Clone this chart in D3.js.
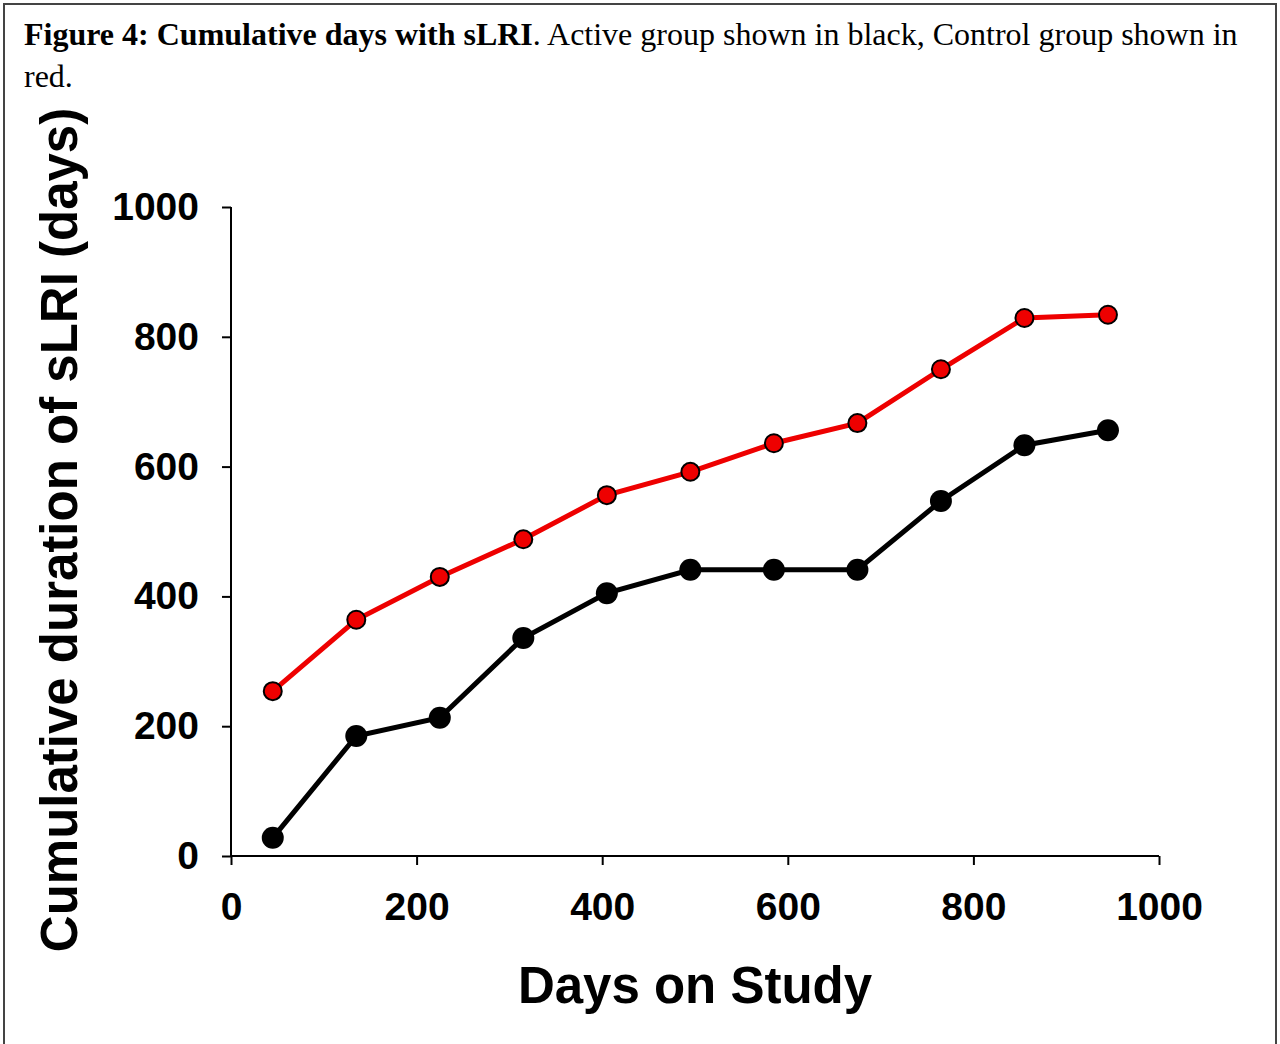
<!DOCTYPE html>
<html>
<head>
  <title>Cumulative days with sLRI</title>
  <style>
    body { margin: 0; background: #fff; }
    svg { display: block; }
    .caption { font-family: "Liberation Serif", "Times New Roman", serif; font-size: 32px; fill: #000; }
    .tick text { font-family: "Liberation Sans", Arial, sans-serif; font-weight: bold; font-size: 39px; fill: #000; }
    .axis-title { font-family: "Liberation Sans", Arial, sans-serif; font-weight: bold; font-size: 51px; fill: #000; }
  </style>
</head>
<body>
  <script src="https://d3js.org/d3.v7.min.js"></script>
  <script>
    // data
    const days = [45, 135, 225, 315, 405, 495, 585, 675, 765, 855, 945];
    const control = [254, 364, 430, 488, 556, 592, 636, 667, 750, 829, 834];
    const active = [28, 185, 213, 336, 405, 441, 441, 441, 547, 633, 656];
    const xTicks = [0, 200, 400, 600, 800, 1000];
    const yTicks = [0, 200, 400, 600, 800, 1000];

    const width = 1280, height = 1044;
    const svg = d3.select("body").append("svg")
      .attr("width", width)
      .attr("height", height);

    // frame
    svg.append("path")
      .attr("d", "M4,1048 V4 H1276 V1048")
      .attr("fill", "none")
      .attr("stroke", "#444")
      .attr("stroke-width", 2);

    // caption
    const cap = svg.append("text").attr("class", "caption").attr("x", 24).attr("y", 45);
    cap.append("tspan").attr("font-weight", "bold").text("Figure 4: Cumulative days with sLRI");
    cap.append("tspan").text(". Active group shown in black, Control group shown in");
    svg.append("text").attr("class", "caption").attr("x", 24).attr("y", 87).text("red.");

    const x = d3.scaleLinear().domain([0, 1000]).range([231, 1159]);
    const y = d3.scaleLinear().domain([0, 1000]).range([856, 207]);
    const fmt = d3.format("d");

    const xAxis = svg.append("g")
      .attr("transform", "translate(0,856)")
      .call(d3.axisBottom(x).tickValues(xTicks).tickFormat(fmt).tickSize(9).tickPadding(27).tickSizeOuter(0));
    xAxis.selectAll("line, path").attr("stroke", "#000").attr("stroke-width", 2);
    xAxis.select(".domain").attr("d", `M${x(0)},0H${x(1000)}`);
    xAxis.selectAll(".tick text").attr("font-size", null).attr("font-family", null);

    const yAxis = svg.append("g")
      .attr("transform", "translate(231,0)")
      .call(d3.axisLeft(y).tickValues(yTicks).tickFormat(fmt).tickSize(9).tickPadding(23).tickSizeOuter(0));
    yAxis.selectAll("line, path").attr("stroke", "#000").attr("stroke-width", 2);
    yAxis.select(".domain").attr("d", `M0,${y(0)}V${y(1000)}`);
    yAxis.selectAll(".tick text").attr("font-size", null).attr("font-family", null);

    // axis titles
    svg.append("text").attr("class", "axis-title")
      .attr("x", 695).attr("y", 1003)
      .attr("text-anchor", "middle")
      .text("Days on Study");
    svg.append("text").attr("class", "axis-title")
      .attr("transform", "translate(77,530) rotate(-90)")
      .attr("text-anchor", "middle")
      .text("Cumulative duration of sLRI (days)");

    const line = d3.line().x((d, i) => x(days[i])).y(d => y(d));

    // control (red)
    svg.append("path").datum(control)
      .attr("d", line).attr("fill", "none")
      .attr("stroke", "#ee0000").attr("stroke-width", 5);
    svg.selectAll(".ctrl").data(control).enter().append("circle")
      .attr("class", "ctrl")
      .attr("cx", (d, i) => x(days[i])).attr("cy", d => y(d))
      .attr("r", 9)
      .attr("fill", "#ee0000").attr("stroke", "#000").attr("stroke-width", 2);

    // active (black)
    svg.append("path").datum(active)
      .attr("d", line).attr("fill", "none")
      .attr("stroke", "#000").attr("stroke-width", 5);
    svg.selectAll(".act").data(active).enter().append("circle")
      .attr("class", "act")
      .attr("cx", (d, i) => x(days[i])).attr("cy", d => y(d))
      .attr("r", 11)
      .attr("fill", "#000");
  </script>
</body>
</html>
